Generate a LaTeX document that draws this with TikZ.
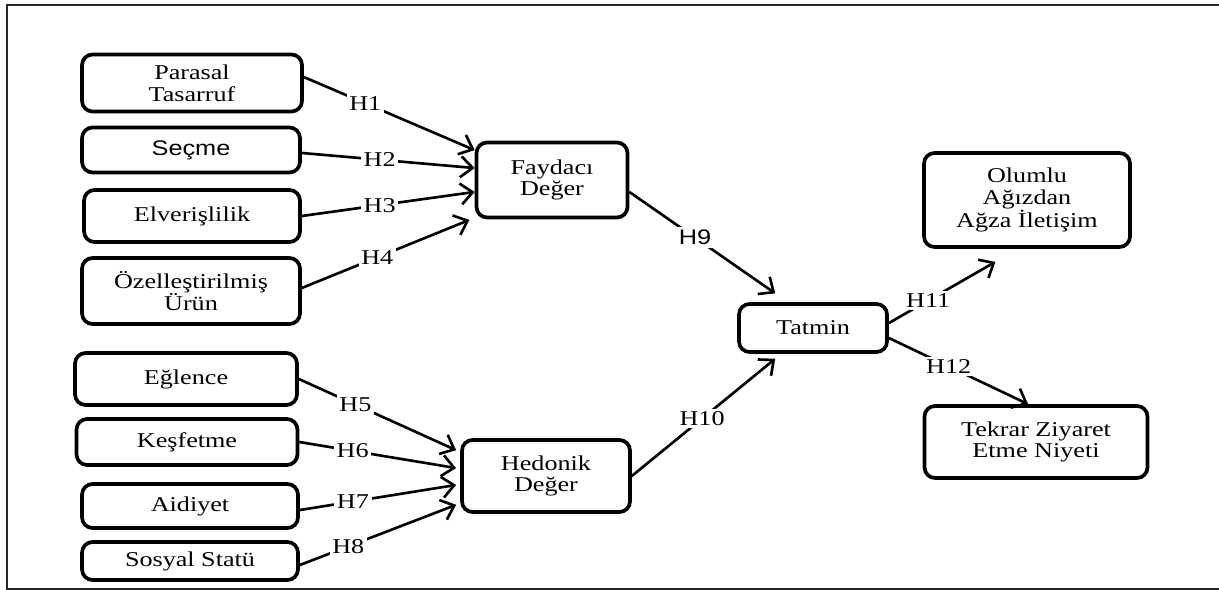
\documentclass[tikz,border=0pt]{standalone}
\usepackage{fontspec}
\setmainfont{Liberation Serif}[FakeStretch=1.24]
\newfontfamily\arialfont{Liberation Sans}[FakeStretch=1.2]
\usepackage{tikz}
\usetikzlibrary{arrows.meta,positioning}

\begin{document}
\begin{tikzpicture}[
  x=0.02cm, y=-0.02cm,
  every node/.style={font=\fontsize{12}{12.4}\selectfont},
  box/.style={draw=black, line width=2.1pt, rounded corners=6pt,
              align=center, inner sep=2pt},
  arr/.style={-{Straight Barb[length=2.4mm, width=4.2mm]}, line width=1.5pt},
  lbl/.style={fill=white, inner sep=1.5pt},
  frame/.style={draw=black!85, line width=0.8pt},
]
\useasboundingbox (0,0) rectangle (1219,590);

% Outer frame
\draw[frame] (1230,5) -- (7,5) -- (7,589) -- (1230,589);

% Faydaci inputs
\node[box, minimum width=4.4cm, minimum height=1.14cm] (par) at (192,83)  {Parasal\\Tasarruf};
\node[box, minimum width=4.36cm, minimum height=0.9cm] (sec) at (191,150) {\arialfont Seçme};
\node[box, minimum width=4.32cm, minimum height=1.04cm] (elv) at (192,216) {Elverişlilik};
\node[box, minimum width=4.36cm, minimum height=1.32cm] (oze) at (191,291) {Özelleştirilmiş\\Ürün};

% Hedonik inputs
\node[box, minimum width=4.44cm, minimum height=1.04cm] (egl) at (186,379) {Eğlence};
\node[box, minimum width=4.42cm, minimum height=0.92cm] (kes) at (187,442) {Keşfetme};
\node[box, minimum width=4.32cm, minimum height=0.88cm] (aid) at (190,506) {Aidiyet};
\node[box, minimum width=4.32cm, minimum height=0.76cm] (sos) at (190,561) {Sosyal Statü};

% Values
\node[box, minimum width=3.02cm, minimum height=1.5cm]  (fay) at (552,180) {Faydacı\\Değer};
\node[box, minimum width=3.36cm, minimum height=1.44cm] (hed) at (546,476) {Hedonik\\Değer};

% Outcomes
\node[box, minimum width=2.96cm, minimum height=0.96cm] (tat) at (813,328)  {Tatmin};
\node[box, minimum width=4.12cm, minimum height=1.88cm] (olu) at (1027,200) {Olumlu\\Ağızdan\\Ağza İletişim};
\node[box, minimum width=4.46cm, minimum height=1.44cm] (tek) at (1036,442) {Tekrar Ziyaret\\Etme Niyeti};

% Arrows
\draw[arr] ([yshift=3.4pt]par.east)  -- node[lbl, pos=0.36] {H1} ([yshift=17pt]fay.west);
\draw[arr] ([yshift=-1.7pt]sec.east) -- node[lbl, pos=0.45] {H2} ([yshift=6.8pt]fay.west);
\draw[arr] (elv.east)                -- node[lbl, pos=0.45] {H3} ([yshift=-6.8pt]fay.west);
\draw[arr] ([yshift=1.7pt]oze.east)  -- node[lbl, pos=0.45] {H4} ([xshift=-3pt, yshift=-22.7pt]fay.west);

\draw[arr] (egl.east)                -- node[lbl, pos=0.36] {H5} ([xshift=-2.3pt, yshift=14.7pt]hed.west);
\draw[arr] (kes.east)                -- node[lbl, pos=0.34] {H6} ([xshift=-2.3pt, yshift=4.5pt]hed.west);
\draw[arr] ([yshift=-2.3pt]aid.east) -- node[lbl, pos=0.34] {H7} ([xshift=-2.3pt, yshift=-5.1pt]hed.west);
\draw[arr] ([yshift=-2.3pt]sos.east) -- node[lbl, pos=0.31] {H8} ([xshift=-2.3pt, yshift=-16.4pt]hed.west);

\draw[arr] ([yshift=-6.8pt]fay.east) -- node[lbl, pos=0.45] {\arialfont H9} ([xshift=-21.5pt, yshift=5pt]tat.north);
\draw[arr] (hed.east)                -- node[lbl, pos=0.49] {H10} ([xshift=-21.5pt, yshift=-2.8pt]tat.south);

\draw[arr] ([yshift=2.8pt]tat.east)  -- node[lbl, pos=0.37] {H11} ([xshift=-18pt, yshift=-7.4pt]olu.south);
\draw[arr] ([yshift=-5.7pt]tat.east) -- node[lbl, pos=0.43] {H12} ([xshift=-4.5pt]tek.north);

\end{tikzpicture}
\end{document}
